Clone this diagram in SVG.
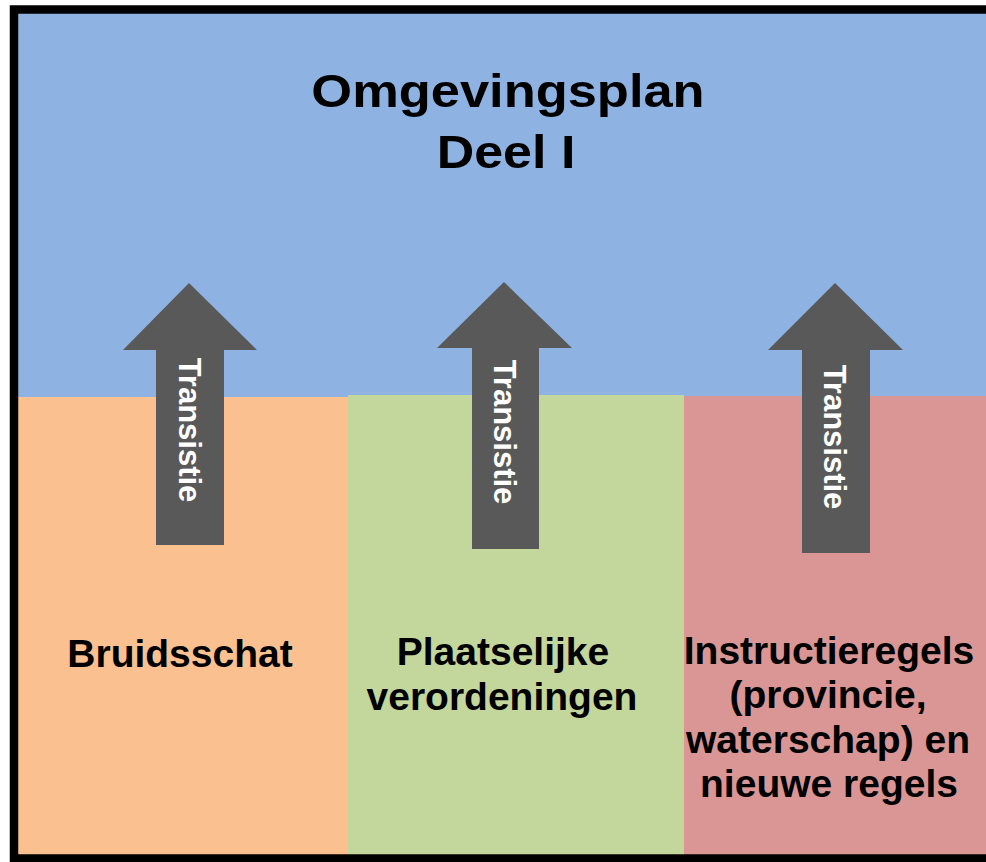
<svg xmlns="http://www.w3.org/2000/svg" width="986" height="862" viewBox="0 0 986 862">
<style>
.lbl{font-family:"Liberation Sans",Arial,sans-serif;font-weight:bold;fill:#000;text-anchor:middle}
.big{font-size:46px}
.mid{font-size:39px}
.arr{fill:#595959}
.tr{font-family:"Liberation Sans",Arial,sans-serif;font-weight:bold;font-size:31px;fill:#fff;text-anchor:middle}
</style>
<rect x="0" y="0" width="986" height="862" fill="#fff"/>
<g id="omgevingsplan">
<rect x="14" y="9" width="980" height="390" fill="#8EB3E2"/>
<text class="lbl big" transform="translate(508,107) scale(1.14,1)">Omgevingsplan</text>
<text class="lbl big" transform="translate(506,168) scale(1.13,1)">Deel I</text>
</g>
<g id="bruidsschat">
<rect x="14" y="397" width="334" height="462" fill="#FAC090"/>
<text class="lbl mid" x="180" y="667">Bruidsschat</text>
</g>
<g id="verordeningen">
<rect x="348" y="395" width="336" height="464" fill="#C3D69B"/>
<text class="lbl mid" x="503" y="665">Plaatselijke</text>
<text class="lbl mid" x="502" y="710">verordeningen</text>
</g>
<g id="instructieregels">
<rect x="684" y="396" width="310" height="463" fill="#D99694"/>
<text class="lbl mid" x="829" y="664">Instructieregels</text>
<text class="lbl mid" x="828" y="708">(provincie,</text>
<text class="lbl mid" x="828" y="753">waterschap) en</text>
<text class="lbl mid" x="829" y="797">nieuwe regels</text>
</g>
<rect x="14" y="9.5" width="1000" height="849" fill="none" stroke="#000" stroke-width="8.5"/>
<g id="connectors">
<g id="arrow1">
<polygon class="arr" points="189,283 257,350 224,350 224,545 156,545 156,350 123,350"/>
<text class="tr" transform="translate(179,430) rotate(90)">Transistie</text>
</g>
<g id="arrow2">
<polygon class="arr" points="504,282 572,348 539,348 539,549 472,549 472,348 437,348"/>
<text class="tr" transform="translate(494,432) rotate(90)">Transistie</text>
</g>
<g id="arrow3">
<polygon class="arr" points="835,283 903,350 870,350 870,553 802,553 802,350 768,350"/>
<text class="tr" transform="translate(824,437) rotate(90)">Transistie</text>
</g>
</g>
</svg>
